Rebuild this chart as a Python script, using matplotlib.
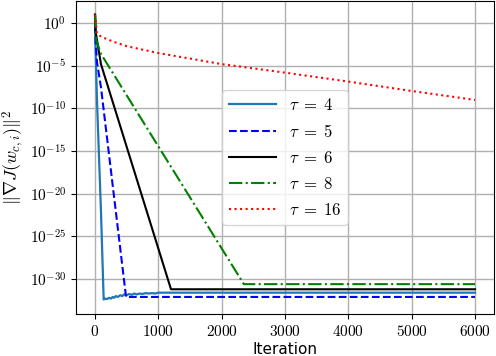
import matplotlib
matplotlib.use("Agg")
import matplotlib.pyplot as plt
import numpy as np
from matplotlib.ticker import FuncFormatter, NullLocator

plt.rcParams['mathtext.fontset'] = 'cm'
plt.rcParams['font.family'] = 'serif'
plt.rcParams['font.serif'] = ['cmr10', 'DejaVu Serif']
plt.rcParams['axes.formatter.use_mathtext'] = True

# iterations and log10 of squared gradient norm
it4 = [0, 5, 31, 94, 137, 160, 190, 220, 250, 280, 300, 330, 360, 400, 430, 460,
       500, 540, 580, 620, 660, 700, 750, 800, 850, 900, 950, 1000, 1100, 6000]
log4 = [1, -2, -9, -22, -32.4, -32.3, -32.35, -32.2, -32.3, -32.1, -32.2, -32.0,
        -32.1, -31.9, -32.0, -31.8, -31.9, -31.75, -31.85, -31.7, -31.8, -31.7,
        -31.75, -31.65, -31.7, -31.65, -31.7, -31.6, -31.6, -31.6]

it5 = [0, 10, 30, 94, 490, 6000]
log5 = [1, -2, -4.5, -7.5, -32.1, -32.1]

it6 = [0, 10, 94, 1200, 6000]
log6 = [1, -1, -4.8, -31.2, -31.2]

it8 = [0, 20, 94, 2350, 6000]
log8 = [1, -2.0, -3.6, -30.6, -30.6]

it16 = [0, 30, 100, 300, 500, 1000, 2000, 3000, 4000, 5000, 6000]
log16 = [1, -1.2, -1.6, -2.2, -2.7, -3.5, -4.8, -5.8, -6.85, -7.95, -9.0]

labels = [r'$\tau\;=\;4$', r'$\tau\;=\;5$', r'$\tau\;=\;6$', r'$\tau\;=\;8$', r'$\tau\;=\;16$']

fig = plt.figure(figsize=(4.96, 3.56), dpi=100)
ax = fig.add_axes([76 / 496, 42 / 356, 418 / 496, 313 / 356])

ax.semilogy(it4, 10.0 ** np.array(log4), color='#1f77b4', lw=1.6, label=labels[0])
ax.semilogy(it5, 10.0 ** np.array(log5), 'b--', lw=1.5, label=labels[1])
ax.semilogy(it6, 10.0 ** np.array(log6), 'k-', lw=1.5, label=labels[2])
ax.semilogy(it8, 10.0 ** np.array(log8), 'g-.', lw=1.5, label=labels[3])
ax.semilogy(it16, 10.0 ** np.array(log16), 'r:', lw=1.5, label=labels[4])

ax.set_xlim(-300, 6300)
ax.set_ylim(10 ** -34.1, 10 ** 2.6)
ax.set_xticks([0, 1000, 2000, 3000, 4000, 5000, 6000])
ax.set_yticks([10.0 ** k for k in range(0, -31, -5)])
ax.yaxis.set_minor_locator(NullLocator())
ax.xaxis.set_major_formatter(FuncFormatter(lambda v, p: r'$%d$' % v))
ax.yaxis.set_major_formatter(FuncFormatter(lambda v, p: r'$10^{%d}$' % round(np.log10(v))))
ax.tick_params(labelsize=11)
ax.grid(True, color='#b0b0b0', lw=1)

ax.set_xlabel('Iteration', fontsize=11, family='DejaVu Sans', labelpad=2)
ax.set_ylabel(r'$\|\nabla J(w_{c,i})\|^2$', fontsize=13, labelpad=2)

ax.legend(loc='center', fontsize=12, handlelength=2.8, labelspacing=0.6)

fig.savefig('out.png', dpi=100)
